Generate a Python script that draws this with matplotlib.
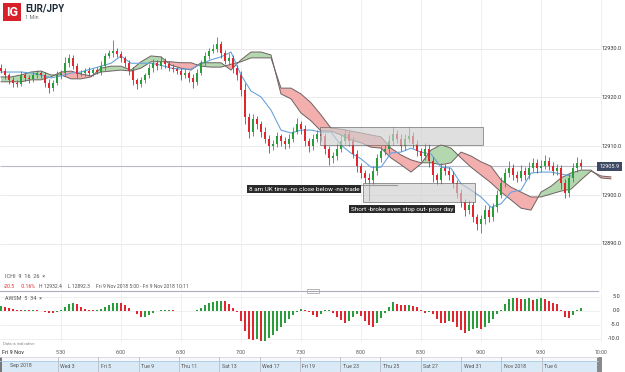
import numpy as np
import matplotlib
matplotlib.use("Agg")
import matplotlib.pyplot as plt
from matplotlib.patches import Rectangle
from matplotlib.transforms import blended_transform_factory as blend

plt.rcParams['font.family'] = ['Roboto', 'DejaVu Sans']

W, H = 625, 372
base = 12900.0      # prices below are pips above this
step = 2            # minutes per candle (5:00 start)

# candles, closes in pips above 12900
close = [25.5, 24.5, 23.5, 23.0, 22.8, 24.5, 24.0, 23.8, 24.5, 25.0,
         24.6, 23.0, 22.0, 23.0, 24.5, 25.0, 27.0, 28.0, 26.5, 24.8,
         25.0, 25.5, 25.0, 25.6, 25.2, 26.5, 28.5, 29.0, 29.5, 28.8,
         28.0, 27.0, 25.5, 23.5, 22.8, 23.5, 24.5, 26.0, 27.0, 26.5,
         27.5, 26.8, 26.0, 25.8, 25.5, 24.5, 25.0, 24.0, 23.2, 25.0,
         27.0, 28.5, 29.5, 30.0, 31.0, 29.0, 27.5, 28.0, 26.0, 24.5,
         21.5, 16.0, 13.0, 15.5, 14.5, 13.0, 11.5, 10.0, 10.5, 12.0,
         11.0, 10.5, 11.5, 13.0, 14.5, 13.5, 11.0, 10.0, 11.5, 12.5,
         12.0, 9.5, 7.5, 8.0, 9.5, 11.0, 12.5, 11.0, 8.5, 6.0,
         4.5, 3.5, 3.0, 5.0, 7.5, 9.0, 9.5, 11.0, 12.5, 11.5,
         10.0, 11.5, 12.0, 10.5, 9.0, 8.0, 9.5, 7.0, 4.0, 3.0,
         5.5, 5.0, 4.0, 2.5, 0.5, -1.5, -3.0, -2.0, -4.5, -6.0,
         -5.0, -3.0, -4.5, -2.5, 0.0, 2.5, 4.5, 5.5, 4.0, 3.5,
         5.0, 4.0, 5.5, 6.5, 5.5, 6.0, 7.0, 6.0, 5.0, 5.5,
         2.5, 0.5, 3.5, 5.5, 6.5, 5.9]
first_open = 26.0
up_wick = [0.8, 0.6, 0.5, 0.7, 0.6, 1.0, 0.5, 0.6, 0.8, 0.7,
           0.5, 0.6, 0.8, 0.5, 0.9, 0.6, 1.2, 0.8, 0.6, 0.5,
           0.7, 0.6, 0.8, 0.5, 0.6, 0.9, 0.7, 0.8, 2.3, 0.6,
           0.7, 0.5, 0.6, 0.8, 0.5, 0.7, 0.6, 0.9, 0.8, 0.6,
           1.0, 0.6, 0.7, 0.9, 0.5, 0.6, 0.8, 0.5, 0.7, 0.9,
           0.6, 0.8, 0.7, 0.9, 1.4, 0.6, 0.8, 1.0, 0.7, 0.6,
           0.9, 1.5, 0.8, 1.2, 0.7, 0.6, 0.9, 0.8, 0.7, 1.0,
           0.6, 0.8, 1.1, 0.9, 1.2, 0.7, 0.8, 0.6, 1.0, 0.9,
           0.7, 0.8, 0.6, 0.9, 1.1, 1.2, 1.0, 0.7, 0.9, 0.8,
           0.6, 0.7, 1.0, 0.9, 0.8, 1.1, 0.7, 1.2, 1.5, 0.8,
           0.9, 1.0, 2.0, 0.9, 0.8, 0.7, 1.1, 0.9, 0.8, 0.6,
           1.0, 0.8, 0.7, 0.9, 0.6, 0.8, 0.7, 0.9, 0.6, 0.7,
           0.8, 1.0, 0.7, 0.9, 1.0, 1.1, 1.0, 1.5, 0.8, 0.9,
           1.2, 0.8, 1.3, 1.0, 0.9, 1.2, 1.1, 0.8, 0.7, 0.9,
           0.6, 0.8, 0.9, 1.0, 1.2, 0.8]
dn_wick = [0.6, 0.8, 0.7, 0.9, 0.6, 0.5, 0.7, 0.8, 0.6, 0.5,
           0.7, 0.9, 1.2, 0.6, 0.5, 0.7, 0.6, 0.8, 0.7, 0.9,
           0.5, 0.6, 0.7, 0.6, 0.5, 0.6, 0.8, 0.5, 0.7, 0.6,
           0.8, 0.7, 0.9, 1.0, 1.1, 0.7, 0.6, 0.5, 0.7, 0.8,
           0.6, 0.7, 0.5, 0.6, 0.8, 0.9, 0.6, 0.8, 1.2, 0.6,
           0.5, 0.6, 0.7, 0.5, 0.6, 0.9, 0.7, 0.8, 0.9, 1.0,
           1.2, 1.5, 1.4, 0.9, 1.0, 1.1, 0.9, 1.3, 0.8, 0.7,
           0.9, 1.1, 0.8, 0.7, 0.6, 0.9, 1.0, 1.2, 0.8, 0.7,
           0.9, 1.1, 1.3, 0.9, 0.8, 0.7, 0.6, 0.9, 1.0, 1.2,
           1.1, 1.0, 4.2, 0.9, 0.8, 0.7, 0.9, 0.8, 0.7, 0.9,
           1.0, 0.8, 0.7, 0.9, 1.0, 1.1, 0.8, 1.2, 1.3, 1.0,
           0.8, 0.9, 1.0, 1.1, 1.2, 1.0, 1.3, 0.9, 1.1, 1.2,
           1.7, 0.9, 1.0, 0.8, 0.9, 0.7, 0.8, 0.9, 1.0, 0.8,
           0.7, 0.9, 0.8, 0.7, 0.9, 0.8, 0.7, 0.9, 1.0, 0.8,
           1.3, 1.2, 0.9, 0.8, 0.7, 0.6]

# ichimoku, sampled every 5 minutes
line_step = 5
blue_line = [25.2, 25.2, 25.2, 25.0, 24.6, 24.0, 24.4, 25.0, 25.2, 25.8,
             26.4, 27.0, 28.5, 27.0, 27.0, 27.0, 26.6, 26.0, 25.8, 25.8,
             26.8, 27.7, 28.3, 29.3, 24.6, 21.3, 20.1, 17.4, 13.3, 12.7,
             13.3, 13.3, 12.9, 12.9, 10.2, 8.6, 7.4, 5.7, 5.7, 8.6,
             8.8, 9.6, 8.8, 8.4, 5.7, 5.5, 2.3, 1.0, -0.4, -2.5,
             -1.8, 0.6, 1.0, 4.5, 4.7, 4.7, 4.3, 3.9]
span_a = [24.2, 24.2, 24.6, 25.2, 25.4, 24.6, 24.6, 23.8, 23.8, 24.2,
          26.0, 26.4, 26.4, 25.6, 27.3, 28.5, 28.3, 26.6, 26.0, 25.6,
          27.1, 27.1, 27.1, 25.6, 27.7, 29.3, 29.3, 28.7, 20.7, 19.7,
          16.8, 15.2, 13.1, 13.1, 12.3, 11.3, 10.7, 9.8, 9.6, 7.6,
          6.2, 4.7, 6.4, 9.2, 10.3, 9.6, 7.6, 5.7, 4.1, 2.5,
          0.6, -1.0, -2.7, -3.1, 0.6, 1.8, 3.5, 4.5, 5.1, 5.1,
          3.5, 3.3]
span_b = [23.2, 23.2, 23.2, 23.6, 23.6, 24.2, 25.2, 25.4, 24.8, 24.4,
          25.2, 25.4, 25.6, 25.4, 26.0, 27.3, 27.3, 27.3, 27.1, 27.1,
          26.4, 26.2, 26.2, 26.8, 27.3, 28.1, 28.1, 28.1, 21.9, 21.9,
          20.7, 18.9, 16.4, 13.7, 13.5, 13.1, 12.7, 12.3, 11.9, 9.6,
          8.2, 7.2, 6.6, 6.6, 6.2, 6.6, 8.8, 8.0, 6.8, 5.9,
          3.1, 1.6, 0.6, -0.4, -0.4, 0.2, 0.8, 1.2, 3.1, 4.9,
          3.9, 3.7]

# awesome oscillator, one value per candle
awsm = [1.8, 1.6, 1.0, 0.6, 0.3, 0.2, 0.3, 0.2, 0.3, 0.2,
        0.1, -0.3, -0.6, -0.7, -0.4, 0.4, 1.4, 2.4, 3.0, 2.6,
        1.6, 0.8, 0.3, 0.2, 0.3, 0.8, 1.6, 2.3, 2.8, 3.0,
        2.9, 2.2, 1.2, 0.1, -1.0, -2.2, -2.0, -1.3, -0.6, -0.1,
        0.2, 0.4, 0.5, 0.3, 0.1, 0.0, 0.1, 0.1, 0.0, 0.4,
        1.2, 2.0, 2.7, 3.2, 3.6, 3.7, 3.4, 2.4, 1.2, -0.3,
        -3.5, -7.0, -10.0, -10.4, -10.1, -10.8, -10.6, -9.6, -8.4, -7.0,
        -5.6, -4.2, -2.8, -1.4, -0.2, 0.8, 0.5, -0.5, -1.5, -2.0,
        -1.0, 0.2, 0.5, -0.6, -2.0, -3.3, -4.4, -3.5, -2.2, -1.2,
        -1.8, -3.5, -5.0, -5.6, -4.2, -2.5, -0.8, 1.5, 3.3, 2.6,
        2.2, 2.0, 2.1, 1.8, 1.6, 0.4, -0.8, -0.3, -1.2, -3.0,
        -4.2, -4.4, -3.5, -4.0, -5.6, -6.8, -7.7, -7.3, -6.6, -6.0,
        -6.6, -5.8, -4.3, -2.8, -1.2, 0.5, 2.6, 4.2, 4.8, 4.6,
        4.3, 4.4, 4.5, 4.1, 4.3, 4.8, 4.4, 3.6, 3.0, 2.4,
        0.2, -2.0, -2.6, -1.4, 0.3, 1.2]

last_price = 12905.9
price_ticks = [12890, 12900, 12910, 12920, 12930]
ao_ticks = [5, 0, -5, -10]
time_ticks = [30, 60, 90, 120, 150, 180, 210, 240, 270, 300]
time_labels = ['5:30', '6:00', '6:30', '7:00', '7:30', '8:00', '8:30', '9:00', '9:30', '10:00']
nav_labels = ['Sep 2018', 'Wed 3', 'Fri 5', 'Tue 9', 'Thu 11', 'Sat 13', 'Wed 17',
              'Fri 19', 'Tue 23', 'Thu 25', 'Sat 27', 'Wed 31', 'Nov 2018', 'Tue 6']

# trade boxes (minutes from 5:00, pips)
box_entry = (159.5, 241.0, 10.2, 13.9)
box_short = (181.0, 237.0, -1.4, 2.5)

GREEN = '#2a9d3a'
RED = '#e0262e'
GRID = '#ececec'

fig = plt.figure(figsize=(W / 100, H / 100), dpi=100)


def px_axes(x0, y0, x1, y1):
    a = fig.add_axes([x0 / W, 1 - y1 / H, (x1 - x0) / W, (y1 - y0) / H])
    a.axis('off')
    return a


x_lo, x_hi = -0.5, (W - 1) / 2.0

# ---- price panel
ax = px_axes(0, 0, W, 290)
ax.set_xlim(x_lo, x_hi)
ax.set_ylim(base + (195 - 290) / 4.88, base + 195 / 4.88)
ax.vlines(time_ticks, base - 30, base + 50, color=GRID, lw=0.6, zorder=0)
ax.hlines(price_ticks, x_lo, 299.5, color='#e6e6e6', lw=0.6, zorder=0)
ax.hlines(last_price, x_lo, 298.5, color='#b8bbcb', lw=0.8, zorder=1)

km = np.arange(len(span_a)) * line_step
sa = base + np.array(span_a)
sb = base + np.array(span_b)
ax.fill_between(km, sa, sb, where=sa >= sb, interpolate=True, color='#b3d7ae', lw=0, zorder=2)
ax.fill_between(km, sa, sb, where=sa < sb, interpolate=True, color='#f3aeae', lw=0, zorder=2)
ax.plot(km, sa, color='#6f6262', lw=0.7, zorder=3)
ax.plot(km, sb, color='#6f6262', lw=0.7, zorder=3)
ax.plot(np.arange(len(blue_line)) * line_step, base + np.array(blue_line),
        color='#69a3dc', lw=0.8, zorder=3)

c = base + np.array(close)
o = np.concatenate([[base + first_open], c[:-1]])
hi = np.maximum(o, c) + np.array(up_wick)
lo = np.minimum(o, c) - np.array(dn_wick)
m = np.arange(len(close)) * step
cols = [GREEN if cc > oo else RED for oo, cc in zip(o, c)]
ax.vlines(m, lo, hi, colors=cols, lw=0.6, zorder=4)
body = np.where(np.abs(c - o) < 0.15, 0.15, c - o)
ax.bar(m, body, bottom=o, width=1.1, color=cols, lw=0, zorder=5)

for x0, x1, p0, p1 in (box_entry, box_short):
    ax.add_patch(Rectangle((x0, base + p0), x1 - x0, p1 - p0, fc='#cfcfcf', alpha=0.65,
                           ec='#4d4d4d', lw=0.6, zorder=6))
ax.plot([174.5, 198], [base + 2.05] * 2, color='#9a9a9a', lw=0.8, zorder=6)
ax.text(151.5, base + 1.2, '8 am UK time -no close below -no trade', ha='center', va='center',
        fontsize=4.6, color='white', zorder=7,
        bbox=dict(boxstyle='square,pad=0.25', fc='#2a2a2a', ec='none'))
ax.text(200.5, base - 2.9, 'Short -broke even stop out- poor day', ha='center', va='center',
        fontsize=4.6, color='white', zorder=7,
        bbox=dict(boxstyle='square,pad=0.25', fc='#2a2a2a', ec='none'))

# ---- AO panel
ax2 = px_axes(0, 293, W, 342)
ax2.set_xlim(x_lo, x_hi)
ax2.set_ylim((311 - 342) / 2.8, (311 - 293) / 2.8)
ax2.vlines(time_ticks, -12, 7, color=GRID, lw=0.6, zorder=0)
ax2.hlines(ao_ticks, x_lo, 299.5, color=GRID, lw=0.6, zorder=0)
ao = np.array(awsm)
ao_cols = [GREEN] + [GREEN if ao[i] > ao[i - 1] else RED for i in range(1, len(ao))]
ax2.bar(m, ao, width=0.9, color=ao_cols, lw=0, zorder=2)

# ---- overlay in pixel coordinates
ov = px_axes(0, 0, W, H)
ov.set_xlim(0, W)
ov.set_ylim(H, 0)
ov.set_zorder(10)

tr_p = blend(ov.transData, ax.transData)
for p in price_ticks:
    ax.text(621, p, f'{p:.1f}', transform=tr_p, ha='right', va='center', fontsize=4, color='#333333')
ax.text(609.5, last_price, f'{last_price:.1f}', transform=tr_p, ha='center', va='center',
        fontsize=4, color='white', zorder=8,
        bbox=dict(boxstyle='square,pad=0.35', fc='#3d4a63', ec='none'))

tr_a = blend(ov.transData, ax2.transData)
for v in ao_ticks:
    ax2.text(620, v, f'{v:.1f}', transform=tr_a, ha='right', va='center', fontsize=4, color='#333333')

tr_t = blend(ax2.transData, ov.transData)
for t, lab in zip(time_ticks, time_labels):
    ov.text(t, 352, lab, transform=tr_t, ha='center', va='center', fontsize=3.8, color='#555555')
ov.text(2, 352, 'Fri 9 Nov', ha='left', va='center', fontsize=4, color='#222222')

# header
ov.add_patch(Rectangle((3, 3), 18, 18, fc='#d7202a', ec='none'))
ov.text(12, 12.5, 'IG', ha='center', va='center', fontsize=9, color='white', fontweight='bold')
ov.text(25, 9, 'EUR/JPY', ha='left', va='center', fontsize=7, color='#1d2b3a', fontweight='bold')
ov.text(25, 17.5, '1 Min', ha='left', va='center', fontsize=4, color='#777777')

ov.text(5, 276, 'ICHI  9  16  26  \u00d7', ha='left', va='center', fontsize=4, color='#555555')
for x, s, col in [(4, '-20.5', RED), (21, '-0.16%', RED), (39, 'H 12932.4', '#555555'),
                  (68, 'L 12892.3', '#555555'),
                  (96, 'Fri 9 Nov 2018 5:00 - Fri 9 Nov 2018 10:11', '#555555')]:
    ov.text(x, 286, s, ha='left', va='center', fontsize=3.6, color=col)

ov.plot([0, 598], [291, 291], color='#a9adbd', lw=0.8)
ov.add_patch(Rectangle((307, 289), 12, 4, fc='white', ec='#9a9a9a', lw=0.5))
ov.plot([310, 316], [291, 291], color='#9a9a9a', lw=0.4)
ov.text(5, 298, 'AWSM  5  34  \u00d7', ha='left', va='center', fontsize=4, color='#555555')
ov.text(3, 344, 'Data is indicative', ha='left', va='center', fontsize=3.0, color='#888888')

# navigator strip
ov.add_patch(Rectangle((0, 357), 598, 15, fc='#f7f9fc', ec='none'))
ov.add_patch(Rectangle((0, 360.5), 598, 12, fc='#d9e9f6', ec='none'))
ov.plot([0, 598], [360.5, 360.5], color='#a8cbe9', lw=0.6)
ov.plot([0, 598], [357, 357], color='#d0d0d0', lw=0.5)
nav_x = [0] + [58 + 40.3 * k for k in range(len(nav_labels) - 1)]
for x, lab in zip(nav_x, nav_labels):
    if x > 0:
        ov.plot([x, x], [357, 372], color='#b9bcc6', lw=0.6)
    ov.text(x + (10 if x == 0 else 2.5), 366, lab, ha='left', va='center', fontsize=3.8, color='#555555')
ov.add_patch(Rectangle((0, 357), 2, 15, fc='#777777', ec='none'))
ov.add_patch(Rectangle((597, 357), 5, 15, fc='#8a8a8a', ec='none'))

fig.savefig('out.png', dpi=100)
